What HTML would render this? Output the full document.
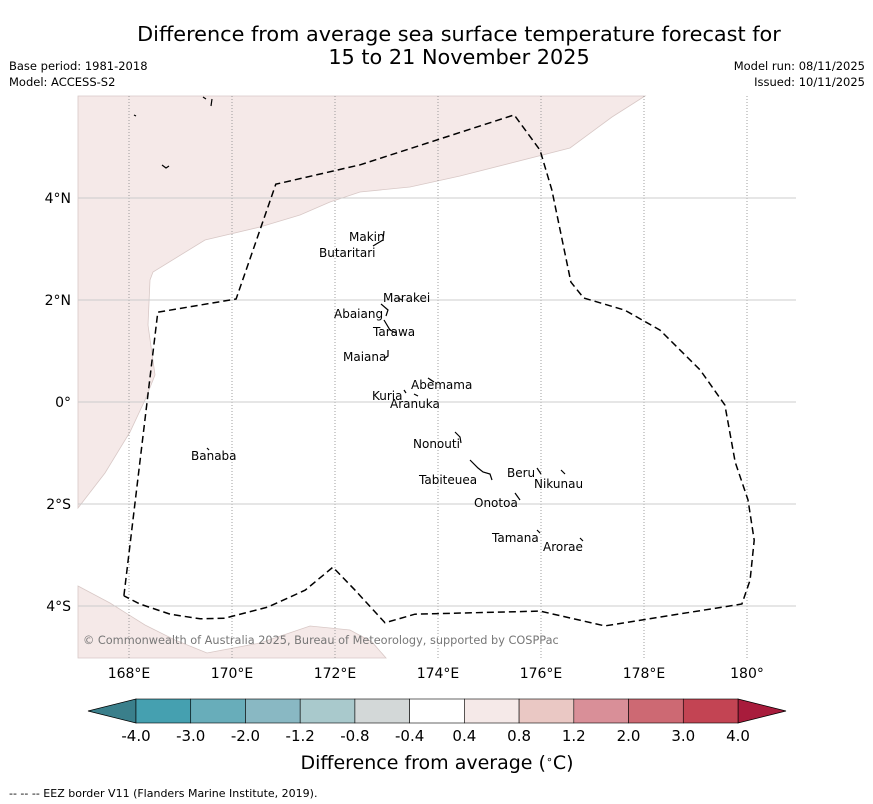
<!DOCTYPE html>
<html><head><meta charset="utf-8"><style>
body{margin:0;background:#fff;width:873px;height:804px;overflow:hidden;font-family:"DejaVu Sans","Liberation Sans",sans-serif}
svg{position:absolute;left:0;top:0}
</style></head><body>
<svg id="chart" width="873" height="804" font-family="DejaVu Sans, Liberation Sans, sans-serif">
<text x="459" y="41" text-anchor="middle" font-size="20.8">Difference from average sea surface temperature forecast for</text>
<text x="459" y="64" text-anchor="middle" font-size="20.8">15 to 21 November 2025</text>
<text x="9" y="70" font-size="11.5">Base period: 1981-2018</text>
<text x="9" y="86" font-size="11.5">Model: ACCESS-S2</text>
<text x="865" y="70" font-size="11.5" text-anchor="end">Model run: 08/11/2025</text>
<text x="865" y="86" font-size="11.5" text-anchor="end">Issued: 10/11/2025</text>
<g id="map">
<path d="M78,96 L645,96 L612,117 L570,148 L460,176 L410,187 L360,192 L330,202 L300,215 L260,227 L205,240 L153,272 L150,280 L148,325 L155,375 L145,400 L130,432 L105,473 L78,508 Z" fill="#f5e9e8" stroke="#d8c8c6" stroke-width="0.8"/>
<path d="M78,586 L110,603 L145,625 L175,640 L207,653 L260,643 L310,626 L350,630 L372,642 L386,658 L78,658 Z" fill="#f5e9e8" stroke="#d8c8c6" stroke-width="0.8"/>
<g id="grid"></g>
<g id="islands" stroke="#000" stroke-width="1.2" fill="none">
<path d="M384,231 L383,240 L373,246"/><path d="M381,304 L388,310 L386,316"/><path d="M398,298 L402,300"/><path d="M384,320 L390,330 L396,333"/><path d="M388,350 L388,356 L385,358"/><path d="M428,378 L434,382"/><path d="M404,390 L406,393"/><path d="M414,394 L418,396"/><path d="M455,432 L460,437 L461,443"/><path d="M470,460 L478,468 L483,472 L490,474 L492,480"/><path d="M537,468 L541,474"/><path d="M561,470 L565,474"/><path d="M515,493 L520,500"/><path d="M537,530 L540,533"/><path d="M580,538 L583,541"/><path d="M207,448 L209,450"/><path d="M134,115 L136,116"/><path d="M203,97 L206,99 M212,99 L211,106"/><path d="M162,165 L166,168 L169,166"/>
</g>
<g font-size="12" fill="#000">
<text x="349" y="241">Makin</text><text x="319" y="257">Butaritari</text><text x="383" y="302">Marakei</text><text x="334" y="318">Abaiang</text><text x="373" y="336">Tarawa</text><text x="343" y="361">Maiana</text><text x="411" y="389">Abemama</text><text x="372" y="400">Kuria</text><text x="390" y="408">Aranuka</text><text x="413" y="448">Nonouti</text><text x="191" y="460">Banaba</text><text x="507" y="477">Beru</text><text x="534" y="488">Nikunau</text><text x="419" y="484">Tabiteuea</text><text x="474" y="507">Onotoa</text><text x="492" y="542">Tamana</text><text x="543" y="551">Arorae</text>
</g>
<path id="eez" fill="none" stroke="#000" stroke-width="1.5" stroke-dasharray="7,4"/>
<text x="83" y="644" font-size="11.3" fill="#777">© Commonwealth of Australia 2025, Bureau of Meteorology, supported by COSPPac</text>
<g id="axes" font-size="14"></g>
</g>
<g id="colorbar"></g>
<text x="437" y="769" text-anchor="middle" font-size="19">Difference from average (<tspan baseline-shift="super" font-size="11">∘</tspan>C)</text>
<text x="9" y="797" font-size="11">--  --  -- EEZ border V11 (Flanders Marine Institute, 2019).</text>
</svg>
<script>
const lonTicks=[168,170,172,174,176,178,180];
const lonLabels=["168°E","170°E","172°E","174°E","176°E","178°E","180°"];
const latTicks=[4,2,0,-2,-4];
const latLabels=["4°N","2°N","0°","2°S","4°S"];
const eezLon=[167.90,168.56,170.08,170.85,172.49,175.48,175.98,176.21,176.58,176.83,177.63,178.31,179.09,179.57,179.77,180.02,180.14,180.06,179.90,177.24,175.98,173.55,172.97,172.39,171.96,171.42,170.70,169.86,169.38,168.80,168.21,167.90];
const eezLat=[-3.80,1.76,2.02,4.27,4.65,5.63,4.94,4.16,2.35,2.04,1.80,1.41,0.63,-0.06,-1.18,-1.92,-2.71,-3.49,-3.96,-4.39,-4.10,-4.16,-4.33,-3.69,-3.24,-3.69,-4.02,-4.24,-4.25,-4.16,-3.96,-3.80];
const cbLevels=["-4.0","-3.0","-2.0","-1.2","-0.8","-0.4","0.4","0.8","1.2","2.0","3.0","4.0"];
const cbColors=["#45a0b0","#68adba","#89b8c3","#a9c9cc","#d3d8d8","#ffffff","#f5e9e8","#eac8c4","#d98f98","#cd6973","#c34453"];
const NS="http://www.w3.org/2000/svg";
const X0=78,X1=796,Y0=96,Y1=658;
const xS=lon=>129+(lon-168)*51.5;
const yS=lat=>402-lat*51;
function mk(t,a,p){const e=document.createElementNS(NS,t);for(const k in a)e.setAttribute(k,a[k]);p.appendChild(e);return e;}
const grid=document.getElementById('grid'),axes=document.getElementById('axes');
lonTicks.forEach((v,i)=>{
 const l=mk('line',{x1:xS(v),x2:xS(v),y1:Y0,y2:Y1,stroke:'#888','stroke-width':0.8,'stroke-dasharray':'1,2'},grid);
 
 
 const t=mk('text',{x:xS(v),y:678,'text-anchor':'middle'},axes);t.textContent=lonLabels[i];
 
 
});
latTicks.forEach((v,i)=>{
 const l=mk('line',{x1:X0,x2:X1,y1:yS(v),y2:yS(v),stroke:'#ccc','stroke-width':1},grid);
 
 
 const t=mk('text',{x:71,y:yS(v)+5,'text-anchor':'end'},axes);t.textContent=latLabels[i];
 
 
});
document.getElementById('eez').setAttribute('d',eezLon.map((v,i)=>(i?'L':'M')+xS(v).toFixed(1)+','+yS(eezLat[i]).toFixed(1)).join(' '));
const cb=document.getElementById('colorbar');
const cx0=136,cx1=738,cy0=699,cy1=723,n=cbColors.length,w=(cx1-cx0)/n;
const lt=mk('polygon',{points:`${cx0},${cy0} ${cx0},${cy1} 88,${(cy0+cy1)/2}`,fill:'#3a7f8b',stroke:'#000','stroke-width':0.8},cb);


const rt=mk('polygon',{points:`${cx1},${cy0} ${cx1},${cy1} 786,${(cy0+cy1)/2}`,fill:'#a81c3c',stroke:'#000','stroke-width':0.8},cb);


cbColors.forEach((c,i)=>{
 const r=mk('rect',{x:cx0+i*w,y:cy0,width:w,height:cy1-cy0,fill:c,stroke:'#000','stroke-width':0.6},cb);
 
 
});
cbLevels.forEach((s,i)=>{
 const t=mk('text',{x:cx0+i*w,y:741,'text-anchor':'middle','font-size':15},cb);t.textContent=s;
 
 
});
</script>
</body></html>
